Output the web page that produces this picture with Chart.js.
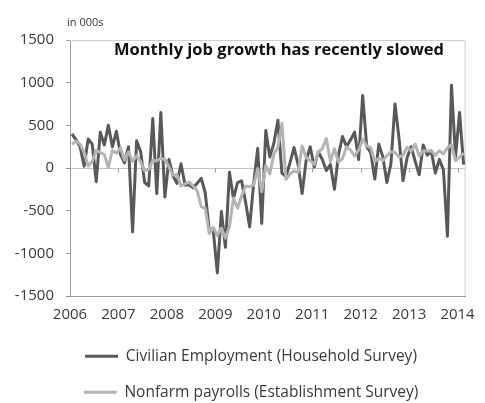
<!DOCTYPE html>
<html>
<head>
<meta charset="utf-8">
<script src="https://cdn.jsdelivr.net/npm/chart.js@4.4.1/dist/chart.umd.min.js"></script>
<style>
html,body{margin:0;padding:0;background:#fff;}
#c{display:block;}
</style>
</head>
<body>
<canvas id="c" width="485" height="403"></canvas>
<script>
// ---- data (thousands, monthly change, Jan 2006 .. Feb 2014) ----
const yearLabels = ['2006','2007','2008','2009','2010','2011','2012','2013','2014'];
const yTickValues = [-1500,-1000,-500,0,500,1000,1500];
const seriesNames = ['Civilian Employment (Household Survey)','Nonfarm payrolls (Establishment Survey)'];
const chartTitle = 'Monthly job growth has recently slowed';
const unitLabel = 'in 000s';

const household = [
  400, 330, 250, 20, 340, 280, -160, 420, 270, 500, 250, 430,
  160, 60, 250, -750, 320, 190, -170, -210, 580, -300, 650, -340,
  100, -90, -180, 50, -200, -200, -230, -180, -120, -290, -730, -740,
  -1230, -510, -930, -50, -360, -170, -150, -400, -690, -180, 230, -650,
  440, 130, 290, 560, -60, -100, 60, 240, 40, -300, 90, 250,
  10, 190, 100, -30, 40, -250, 150, 370, 250, 330, 420, 100,
  850, 250, 180, -130, 280, 130, -170, 50, 750, 350, -150, 120,
  250, 80, -80, 270, 150, 200, -60, 100, -20, -800, 970, 130,
  650, 40
];
const payrolls = [
  277, 315, 280, 182, 23, 77, 207, 181, 158, 4, 208, 171,
  238, 93, 190, 80, 143, 75, -34, -20, 88, 84, 114, 98,
  17, -84, -78, -210, -185, -165, -209, -266, -452, -473, -769, -695,
  -791, -703, -823, -686, -351, -470, -329, -212, -219, -200, -7, -279,
  28, -69, 163, 243, 522, -133, -70, -34, -52, 257, 123, 88,
  42, 188, 225, 346, 77, 225, 69, 110, 248, 209, 141, 209,
  338, 257, 239, 75, 115, 87, 143, 190, 181, 132, 149, 243,
  197, 280, 141, 203, 199, 201, 149, 202, 164, 237, 274, 84,
  129, 175
];

const FONT = '"Open Sans", "Noto Sans", sans-serif';
const TXT = '#3a3a3a';

const decorPlugin = {
  id: 'decor',
  afterLayout(chart) {
    // centre the legend block under the plot like the original
    if (chart.legend) { chart.legend.left = 32; }
  },
  beforeDatasetsDraw(chart) {
    const {ctx, chartArea: a, scales} = chart;
    ctx.save();
    ctx.strokeStyle = '#cfcfcf';
    ctx.lineWidth = 1;
    ctx.beginPath();
    ctx.moveTo(a.left, a.top + 0.5);
    ctx.lineTo(a.right - 0.5, a.top + 0.5);
    ctx.lineTo(a.right - 0.5, a.bottom);
    ctx.stroke();
    // year tick marks on the zero line
    const y0 = Math.round(scales.y.getPixelForValue(0)) + 0.5;
    ctx.strokeStyle = '#9a9a9a';
    ctx.beginPath();
    scales.x.ticks.forEach(t => {
      const x = Math.round(scales.x.getPixelForValue(t.value)) + 0.5;
      ctx.moveTo(x, y0);
      ctx.lineTo(x, y0 + 4);
    });
    ctx.stroke();
    ctx.restore();
  },
  afterDraw(chart) {
    const {ctx, chartArea: a} = chart;
    ctx.save();
    ctx.fillStyle = '#111';
    ctx.font = 'bold 16.5px ' + FONT;
    ctx.textAlign = 'center';
    ctx.textBaseline = 'alphabetic';
    ctx.fillText(chartTitle, a.left + 209, a.top + 15);
    ctx.fillStyle = TXT;
    ctx.font = '11px ' + FONT;
    ctx.textAlign = 'left';
    ctx.fillText(unitLabel, a.left - 3, a.top - 14);
    ctx.restore();
  }
};

new Chart(document.getElementById('c'), {
  type: 'line',
  data: {
    datasets: [
      {
        label: seriesNames[0],
        data: household.map((v, i) => ({x: i, y: v})),
        borderColor: '#595959',
        backgroundColor: '#595959',
        borderWidth: 3,
        pointRadius: 0,
        tension: 0,
        borderJoinStyle: 'round',
        order: 2
      },
      {
        label: seriesNames[1],
        data: payrolls.map((v, i) => ({x: i, y: v})),
        borderColor: '#b4b4b4',
        backgroundColor: '#b4b4b4',
        borderWidth: 3,
        pointRadius: 0,
        tension: 0,
        borderJoinStyle: 'round',
        order: 1
      }
    ]
  },
  options: {
    responsive: false,
    animation: false,
    devicePixelRatio: 1,
    layout: { padding: { top: 40, right: 15, left: 0, bottom: 0 } },
    plugins: {
      tooltip: { enabled: false },
      legend: {
        position: 'bottom',
        maxHeight: 75,
        labels: {
          sort: (a, b) => a.datasetIndex - b.datasetIndex,
          usePointStyle: true,
          pointStyle: 'line',
          pointStyleWidth: 33,
          padding: 20.5,
          color: TXT,
          font: { family: FONT, size: 15.5 }
        }
      }
    },
    scales: {
      x: {
        type: 'linear',
        min: -0.5,
        max: household.length - 0.5,
        afterBuildTicks: ax => { ax.ticks = yearLabels.map((_, i) => ({value: i * 12 - 0.5})); },
        afterFit: s => { s.height = 32; },
        ticks: {
          autoSkip: false, maxRotation: 0, minRotation: 0,
          padding: 10,
          color: TXT,
          font: { family: FONT, size: 15 },
          callback: (v, i) => yearLabels[i]
        },
        grid: { drawOnChartArea: false, drawTicks: false },
        border: { color: '#9a9a9a', width: 1 }
      },
      y: {
        min: -1500,
        max: 1500,
        afterBuildTicks: ax => { ax.ticks = yTickValues.map(v => ({value: v})); },
        afterFit: s => { s.width = 70; },
        ticks: {
          padding: 12,
          color: TXT,
          font: { family: FONT, size: 15 },
          callback: v => String(v)
        },
        grid: {
          color: c => (c.tick && c.tick.value === 0) ? '#c4c4c4' : 'rgba(0,0,0,0)',
          tickColor: '#9a9a9a',
          tickLength: 4,
          lineWidth: 1
        },
        border: { color: '#9a9a9a', width: 1 }
      }
    }
  },
  plugins: [decorPlugin]
});
</script>
</body>
</html>
